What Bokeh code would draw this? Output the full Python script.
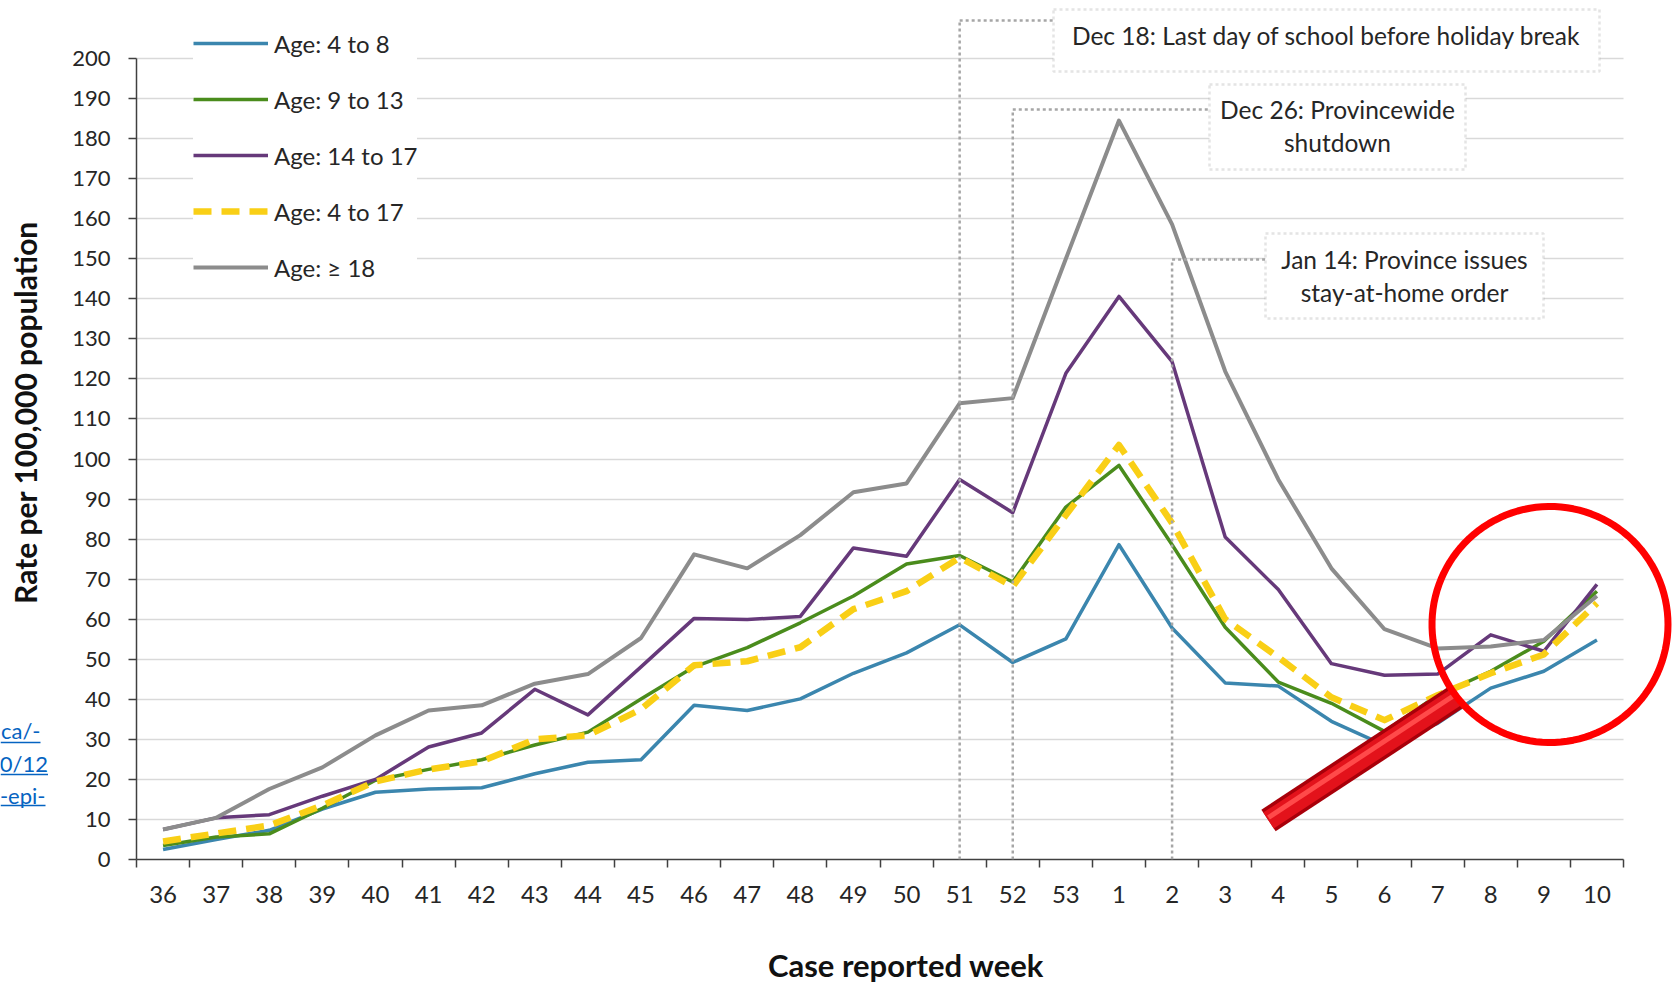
import numpy as np
from bokeh.plotting import figure
from bokeh.layouts import row
from bokeh.models import (Range1d, FixedTicker, Legend, LegendItem, Label,
                          BoxAnnotation, PolyAnnotation, Arrow, ColumnDataSource)
from bokeh.embed import file_html
from bokeh.resources import INLINE

# ---------------- data ----------------
weeks = ["36", "37", "38", "39", "40", "41", "42", "43", "44", "45", "46", "47", "48",
         "49", "50", "51", "52", "53", "1", "2", "3", "4", "5", "6", "7", "8", "9", "10"]

rate_age_4_8 = [2.5, 5.0, 7.3, 12.6, 16.8, 17.6, 17.9, 21.4, 24.3, 24.9, 38.5, 37.2, 40.1,
                46.5, 51.6, 58.6, 49.2, 55.1, 78.6, 57.8, 44.1, 43.3, 34.5, 28.5, 34.0, 42.8, 47.0, 54.8]
rate_age_9_13 = [3.5, 5.6, 6.4, 12.8, 19.8, 22.5, 24.9, 28.6, 31.8, 40.1, 48.1, 52.9, 59.1,
                 65.8, 73.8, 75.9, 69.3, 88.0, 98.4, 78.6, 58.0, 44.3, 39.0, 32.0, 41.0, 47.0, 54.5, 67.0]
rate_age_14_17 = [7.5, 10.4, 11.2, 15.8, 20.0, 28.1, 31.6, 42.5, 36.1, 48.1, 60.2, 59.9, 60.7,
                  77.8, 75.7, 94.9, 86.6, 121.4, 140.6, 124.3, 80.5, 67.4, 48.9, 46.0, 46.3, 56.1, 52.0, 68.7]
rate_age_4_17 = [4.5, 6.5, 8.5, 13.5, 19.5, 22.5, 24.5, 30.0, 31.0, 37.5, 48.5, 49.5, 53.0,
                 62.5, 67.0, 75.4, 68.2, 86.0, 103.5, 84.0, 60.0, 50.5, 40.5, 34.8, 41.0, 46.5, 51.2, 64.0]
rate_age_18_plus = [7.5, 10.4, 17.6, 23.0, 31.0, 37.2, 38.5, 43.9, 46.3, 55.3, 76.2, 72.7, 81.0,
                    91.7, 93.9, 113.9, 115.2, 150.0, 184.5, 158.6, 121.9, 94.9, 72.7, 57.5, 52.7, 53.2, 54.8, 65.8]

series_labels = ["Age: 4 to 8", "Age: 9 to 13", "Age: 14 to 17", "Age: 4 to 17", "Age: \u2265 18"]
y_ticks = list(range(0, 201, 10))
y_title = "Rate per 100,000 population"
x_title = "Case reported week"

event_texts = ["Dec 18: Last day of school before holiday break",
               "Dec 26: Provincewide", "shutdown",
               "Jan 14: Province issues", "stay-at-home order"]
event_weeks = ["51", "52", "2"]
link_fragments = ["ca/-", "0/12", "-epi-"]

# ---------------- layout constants (page pixels) ----------------
FONT = "Lato"
TXT = "#262626"
AXC = "#404040"
STRIP_W = 50           # left strip holding the y title and the cut-off link text
X0, X28 = 136, 1623    # page x of week-axis start / end
Y0, Y200 = 859, 58     # page y of rate 0 / 200
PAGE_RIGHT, PAGE_TOP = 1675, 4
TOTAL_H = 977
NX = len(weeks)
YMAX = 200
XS = (X28 - X0) / NX          # px per week slot
YSC = (Y0 - Y200) / YMAX      # px per rate unit

FL = X0 - STRIP_W
FW = PAGE_RIGHT - X0
FT = PAGE_TOP
FH = Y0 - PAGE_TOP
FB = TOTAL_H - Y0

def dx(page_x):
    return (page_x - X0) / XS
def dy(page_y):
    return (Y0 - page_y) / YSC

week_pos = {w: i + 0.5 for i, w in enumerate(weeks)}
src = ColumnDataSource(dict(x=[week_pos[w] for w in weeks],
                            a=rate_age_4_8, b=rate_age_9_13, c=rate_age_14_17,
                            d=rate_age_4_17, e=rate_age_18_plus))

p = figure(width=FL + FW, height=TOTAL_H, frame_width=FW, frame_height=FH,
           x_range=Range1d(0, dx(PAGE_RIGHT)), y_range=Range1d(0, dy(PAGE_TOP)),
           output_backend="svg", toolbar_location=None,
           min_border_left=FL, min_border_right=0, min_border_top=FT, min_border_bottom=FB)
p.outline_line_color = None
p.background_fill_color = "white"
p.border_fill_color = "white"

# x axis: labels at week centres, tick marks between weeks
xaxis = p.xaxis[0]
xaxis.bounds = (0, NX)
xaxis.ticker = FixedTicker(ticks=[week_pos[w] for w in weeks], minor_ticks=list(range(NX + 1)))
xaxis.major_label_overrides = {week_pos[w]: w for w in weeks}
xaxis.axis_label = x_title
xaxis.axis_line_color = AXC
xaxis.axis_line_width = 1.5
xaxis.major_tick_out = 0
xaxis.major_tick_in = 0
xaxis.minor_tick_out = 8
xaxis.minor_tick_in = 0
xaxis.minor_tick_line_color = AXC
xaxis.minor_tick_line_width = 1.5
xaxis.major_label_text_font = FONT
xaxis.major_label_text_font_size = "24px"
xaxis.major_label_text_color = TXT
xaxis.major_label_standoff = 18
xaxis.axis_label_text_font = FONT
xaxis.axis_label_text_font_size = "31px"
xaxis.axis_label_text_font_style = "bold"
xaxis.axis_label_text_color = "#111111"
xaxis.axis_label_standoff = 40

yaxis = p.yaxis[0]
yaxis.bounds = (0, YMAX)
yaxis.ticker = FixedTicker(ticks=y_ticks)
yaxis.axis_line_color = AXC
yaxis.axis_line_width = 1.5
yaxis.major_tick_out = 8
yaxis.major_tick_in = 0
yaxis.major_tick_line_color = AXC
yaxis.major_tick_line_width = 1.5
yaxis.minor_tick_out = 0
yaxis.minor_tick_in = 0
yaxis.major_label_text_font = FONT
yaxis.major_label_text_font_size = "22px"
yaxis.major_label_text_color = TXT
yaxis.major_label_standoff = 18

grid = p.ygrid[0]
grid.grid_line_color = "#D9D9D9"
grid.grid_line_width = 1.3
grid.bounds = (0, YMAX)
grid.cross_bounds = (0, NX)
p.xgrid.visible = False

# ---------------- series ----------------
styles = [
    ("a", "#3B86AE", 3.5, "solid"),
    ("b", "#4A8C1C", 3.5, "solid"),
    ("c", "#66397A", 3.5, "solid"),
    ("d", "#F9CF16", 6.5, "18 10"),
    ("e", "#8C8C8C", 4.0, "solid"),
]
renderers = []
for col_name, col, w, dash in styles:
    r = p.line(x="x", y=col_name, source=src, line_color=col, line_width=w, line_dash=dash,
               line_join="round", line_cap="butt")
    renderers.append(r)

legend = Legend(items=[LegendItem(label=lab, renderers=[r]) for lab, r in zip(series_labels, renderers)],
                location=(57, 577), orientation="vertical",
                glyph_width=75, glyph_height=30, label_height=30, spacing=26,
                padding=15, margin=0, label_standoff=6,
                label_text_font=FONT, label_text_font_size="24px", label_text_color=TXT,
                background_fill_color="white", background_fill_alpha=1.0,
                border_line_color=None)
p.add_layout(legend)

# ---------------- event annotations ----------------
DOT = dict(line_color="#A6A6A6", line_width=2.5, line_dash="3 3")
conn = [("51", 20, 1053), ("52", 109, 1209), ("2", 259, 1265)]
for w, ytop, xbox in conn:
    p.add_layout(Arrow(end=None, x_start=week_pos[w], y_start=0, x_end=week_pos[w], y_end=dy(ytop), **DOT))
    p.add_layout(Arrow(end=None, x_start=week_pos[w], y_start=dy(ytop), x_end=dx(xbox), y_end=dy(ytop), **DOT))

boxes = [(1053, 1599, 9, 71), (1209, 1465, 84, 169), (1265, 1543, 233, 318)]
for l, r, t, b in boxes:
    p.add_layout(BoxAnnotation(left=dx(l), right=dx(r), top=dy(t), bottom=dy(b),
                               fill_color="white", fill_alpha=1.0, **DOT))

text_pos = [(1326, 35), (1337, 109), (1337, 142), (1404, 259), (1404, 292)]
for txt, (tx, ty) in zip(event_texts, text_pos):
    p.add_layout(Label(x=dx(tx), y=dy(ty), text=txt, text_align="center", text_baseline="middle",
                       text_font=FONT, text_font_size="24.5px", text_color=TXT))

# ---------------- red circle and pointer ----------------
t = np.linspace(0, 2 * np.pi, 120)
cx, cy, rad = 1549.5, 624, 118
p.add_layout(PolyAnnotation(xs=[dx(cx + rad * np.cos(a)) for a in t],
                            ys=[dy(cy + rad * np.sin(a)) for a in t],
                            fill_alpha=0, line_color="#FF0000", line_alpha=1.0, line_width=7))
px0, py0, px1, py1 = 1268, 820, 1455, 697
p.line([dx(px0), dx(px1)], [dy(py0), dy(py1)], line_color="#A8000A", line_width=26, line_cap="butt")
p.line([dx(px0), dx(px1)], [dy(py0), dy(py1)], line_color="#E3121B", line_width=19, line_cap="butt")
p.line([dx(px0), dx(px1)], [dy(py0 - 3), dy(py1 - 3)], line_color="#FF4A4A", line_width=5, line_cap="butt")

# ---------------- left strip: y title and cut-off link text ----------------
# strip frame is aligned with the main frame; its y range is in page pixels
s = figure(width=STRIP_W, height=TOTAL_H, frame_width=STRIP_W, frame_height=FH,
           x_range=Range1d(0, STRIP_W), y_range=Range1d(Y0, PAGE_TOP),
           x_axis_location=None, y_axis_location=None, output_backend="svg", toolbar_location=None,
           min_border_left=0, min_border_right=0, min_border_top=FT, min_border_bottom=FB)
s.outline_line_color = None
s.grid.visible = False
s.background_fill_color = "white"
s.border_fill_color = "white"
s.add_layout(Label(x=24, y=412, text=y_title, angle=np.pi / 2, text_align="center",
                   text_baseline="middle", text_font=FONT, text_font_size="30px",
                   text_font_style="bold", text_color="#111111"))
link_pos = [(40, 730, 742), (47.5, 763, 774), (45, 795, 805)]
for txt, (rx, cyy, uy) in zip(link_fragments, link_pos):
    s.add_layout(Label(x=rx, y=cyy, text=txt, text_align="right", text_baseline="middle",
                       text_font=FONT, text_font_size="22px", text_color="#0563C1"))
s.segment(x0=[0, 0, 0], y0=[lp[2] for lp in link_pos], x1=[lp[0] for lp in link_pos],
          y1=[lp[2] for lp in link_pos], line_color="#0563C1", line_width=1.5)

layout = row(s, p, spacing=0)
open("out.html", "w").write(file_html(layout, INLINE))
